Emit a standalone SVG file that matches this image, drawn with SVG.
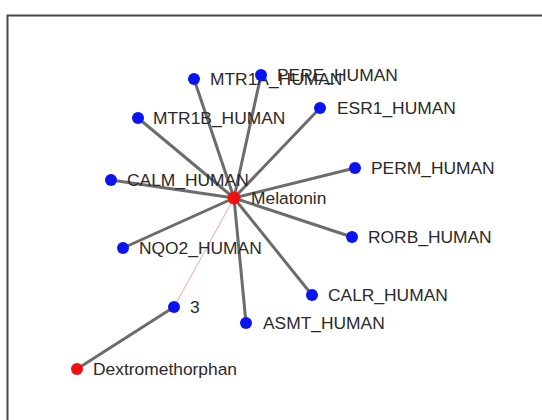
<svg xmlns="http://www.w3.org/2000/svg" width="542" height="420" viewBox="0 0 542 420">
  <style>
    .edge { stroke: #6c6c6c; stroke-width: 3; stroke-linecap: round; fill: none; }
    .weak { stroke: #f2a6a6; stroke-width: 1; fill: none; }
    .protein { fill: #0a14f0; }
    .drug { fill: #f01010; }
    .label { font-family: "Liberation Sans", Arial, sans-serif; font-size: 17.4px; fill: #2a2a2a; }
  </style>
  <rect width="542" height="420" fill="#fff"/>
  <!-- panel frame -->
  <path d="M7.5 420 V15.5 H542" fill="none" stroke="#444" stroke-width="2"/>

  <g id="connectors">
    <line class="edge" x1="234" y1="198" x2="194" y2="79"/>
    <line class="edge" x1="234" y1="198" x2="261" y2="75"/>
    <line class="edge" x1="234" y1="198" x2="320" y2="108"/>
    <line class="edge" x1="234" y1="198" x2="138" y2="118"/>
    <line class="edge" x1="234" y1="198" x2="355" y2="168"/>
    <line class="edge" x1="234" y1="198" x2="111" y2="180"/>
    <line class="edge" x1="234" y1="198" x2="352" y2="237"/>
    <line class="edge" x1="234" y1="198" x2="123" y2="248"/>
    <line class="edge" x1="234" y1="198" x2="312" y2="295"/>
    <line class="edge" x1="234" y1="198" x2="246" y2="323"/>
    <line class="weak" x1="234" y1="198" x2="174" y2="307"/>
    <line class="edge" x1="174" y1="307" x2="77" y2="369"/>
  </g>

  <g id="MTR1A_HUMAN"><circle class="protein" cx="194" cy="79" r="6"/><text class="label" x="210" y="85">MTR1A_HUMAN</text></g>
  <g id="PERE_HUMAN"><circle class="protein" cx="261" cy="75" r="6"/><text class="label" x="277" y="81">PERE_HUMAN</text></g>
  <g id="ESR1_HUMAN"><circle class="protein" cx="320" cy="108" r="6"/><text class="label" x="337" y="114">ESR1_HUMAN</text></g>
  <g id="MTR1B_HUMAN"><circle class="protein" cx="138" cy="118" r="6"/><text class="label" x="153" y="124">MTR1B_HUMAN</text></g>
  <g id="PERM_HUMAN"><circle class="protein" cx="355" cy="168" r="6"/><text class="label" x="371" y="174">PERM_HUMAN</text></g>
  <g id="CALM_HUMAN"><circle class="protein" cx="111" cy="180" r="6"/><text class="label" x="127" y="186">CALM_HUMAN</text></g>
  <g id="Melatonin"><circle class="drug" cx="234" cy="198" r="6.5"/><text class="label" x="251" y="204">Melatonin</text></g>
  <g id="RORB_HUMAN"><circle class="protein" cx="352" cy="237" r="6"/><text class="label" x="368" y="243">RORB_HUMAN</text></g>
  <g id="NQO2_HUMAN"><circle class="protein" cx="123" cy="248" r="6"/><text class="label" x="139" y="254">NQO2_HUMAN</text></g>
  <g id="CALR_HUMAN"><circle class="protein" cx="312" cy="295" r="6"/><text class="label" x="328" y="301">CALR_HUMAN</text></g>
  <g id="node_3"><circle class="protein" cx="174" cy="307" r="6"/><text class="label" x="190" y="313">3</text></g>
  <g id="ASMT_HUMAN"><circle class="protein" cx="246" cy="323" r="6"/><text class="label" x="263" y="329">ASMT_HUMAN</text></g>
  <g id="Dextromethorphan"><circle class="drug" cx="77" cy="369" r="6"/><text class="label" x="93" y="375">Dextromethorphan</text></g>
</svg>
